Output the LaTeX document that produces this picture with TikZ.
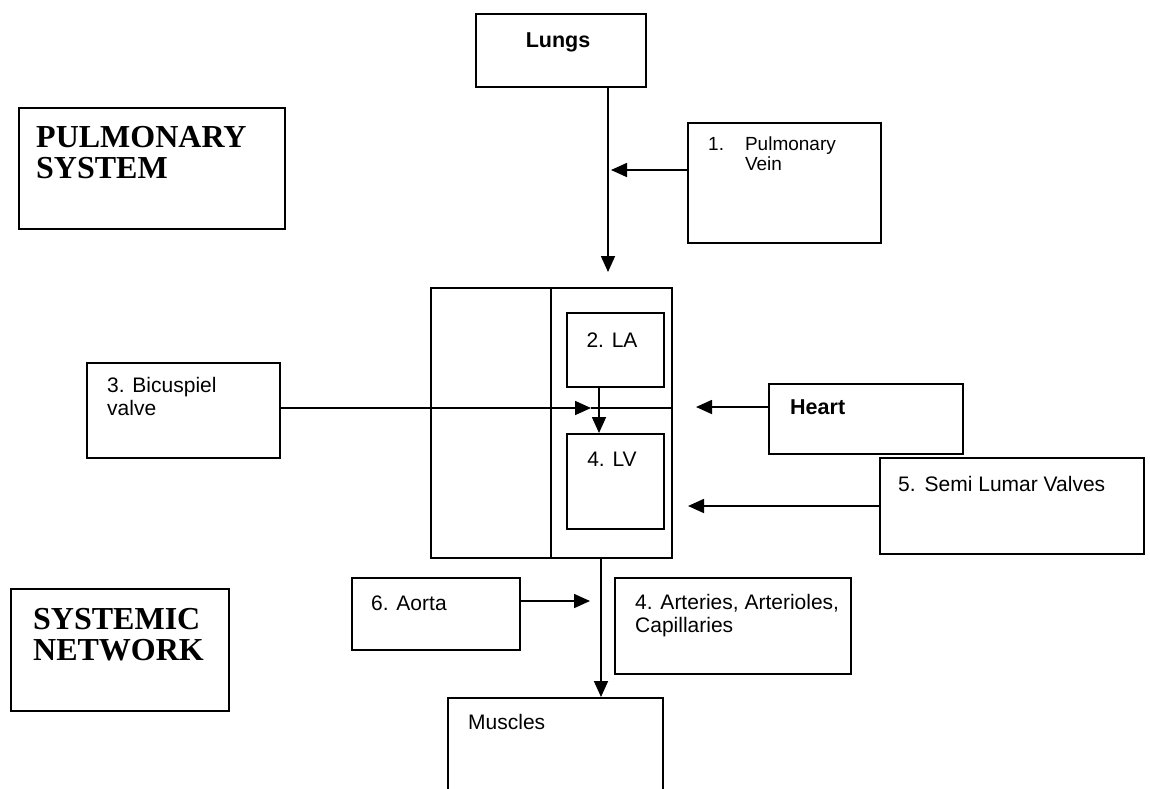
\documentclass[tikz,border=0pt]{standalone}
\usepackage{fontspec}
\setmainfont{Liberation Serif}
\setsansfont{Liberation Sans}
\usetikzlibrary{arrows.meta}
\begin{document}
\begin{tikzpicture}[x=1pt,y=-1pt,
  box/.style={draw,line width=1.7pt,rectangle,inner sep=0pt,anchor=north west},
  txt/.style={inner sep=0pt,font=\sffamily\fontsize{21}{23}\selectfont,align=left},
  btxt/.style={inner sep=0pt,font=\sffamily\bfseries\fontsize{21.5}{23}\selectfont},
  ttl/.style={inner sep=0pt,anchor=north west,align=left,font=\rmfamily\bfseries\fontsize{32}{31}\selectfont},
  conn/.style={line width=1.7pt},
  arr/.style={line width=1.7pt,-{Triangle[length=16pt,width=14pt]}}]
\useasboundingbox (0,0) rectangle (1150,788);
\clip (0,0) rectangle (1150,788);
% title boxes
\node[box,minimum width=266,minimum height=121] (pulm) at (18,107) {};
\node[ttl] (pulmt) at (36,126.5) {PULMONARY\\SYSTEM};
\node[box,minimum width=218,minimum height=122] (sys) at (10,588) {};
\node[ttl] (syst) at (33,608.5) {SYSTEMIC\\NETWORK};
% lungs
\node[box,minimum width=170,minimum height=73] (lungs) at (475,13) {};
\node[btxt,anchor=base] (lungst) at (558,47) {Lungs};
% pulmonary vein
\node[box,minimum width=193,minimum height=120] (pv) at (687,122) {};
\node[inner sep=0pt,anchor=north west,font=\sffamily\fontsize{19}{20}\selectfont] (pvt) at (708,136)
  {\begin{tabular}{@{}l@{\hspace{21pt}}l@{}}1.&Pulmonary\\&Vein\end{tabular}};
% heart outer
\node[box,minimum width=241,minimum height=270] (heart) at (430,287) {};
\coordinate (divT) at (551,287);
\coordinate (divB) at (551,557);
\draw[conn] (divT) -- (divB);
\coordinate (hR) at (671,408);
% LA, LV
\node[box,minimum width=97,minimum height=74] (la) at (566,312) {};
\node[txt,anchor=base] (lat) at (612,347) {2. LA};
\node[box,minimum width=97,minimum height=95] (lv) at (566,433) {};
\node[txt,anchor=base] (lvt) at (612,466) {4. LV};
% bicuspiel
\node[box,minimum width=193,minimum height=95] (bic) at (86,362) {};
\node[txt,anchor=north west] (bict) at (107,377.5) {3. Bicuspiel\\valve};
% heart label
\node[box,minimum width=194,minimum height=70] (hl) at (768,383) {};
\node[btxt,anchor=base west] (hlt) at (790,414) {Heart};
% semi lumar
\node[box,minimum width=264,minimum height=96] (sl) at (879,457) {};
\node[txt,anchor=base west] (slt) at (898,491) {5.\hspace{9pt}Semi Lumar Valves};
% aorta
\node[box,minimum width=168,minimum height=72] (ao) at (351,577) {};
\node[txt,anchor=base west] (aot) at (371,610) {6. Aorta};
% arteries
\node[box,minimum width=236,minimum height=96] (art) at (614,577) {};
\node[txt,anchor=north west] (artt) at (635,594.5) {4. Arteries, Arterioles,\\Capillaries};
% muscles
\node[box,minimum width=215,minimum height=140] (mus) at (447,697) {};
\node[txt,anchor=base west] (must) at (468,729) {Muscles};
% connectors
\coordinate (lungB) at (608,86);
\coordinate (lungTip) at (608,272);
\draw[arr] (lungB) -- (lungTip);
\coordinate (pvTip) at (611,170);
\draw[arr] (pv.west |- 0,170) -- (pvTip);
\coordinate (bicTip) at (591,408);
\draw[arr] (bic.east |- 0,408) -- (bicTip);
\draw[conn] (bicTip) -- (hR);
\draw[arr] (la.south -| 599,0) -- (lv.north -| 599,0);
\coordinate (hlTip) at (696,407);
\draw[arr] (hl.west |- 0,407) -- (hlTip);
\coordinate (slTip) at (688,506);
\draw[arr] (sl.west |- 0,506) -- (slTip);
\coordinate (aoTip) at (590,601);
\draw[arr] (ao.east |- 0,601) -- (aoTip);
\coordinate (hB) at (601,557);
\draw[arr] (hB) -- (mus.north -| 601,0);
\end{tikzpicture}
\end{document}
